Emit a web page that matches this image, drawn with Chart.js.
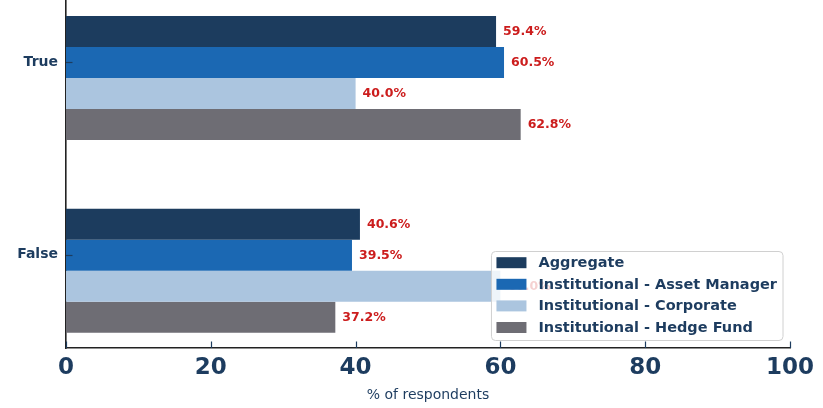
<!DOCTYPE html>
<html><head><meta charset="utf-8">
<script src="https://cdn.jsdelivr.net/npm/chart.js@4.4.0/dist/chart.umd.min.js"></script>
<style>html,body{margin:0;padding:0;background:#fff;overflow:hidden;} #wrap{width:823px;height:408px;position:relative;}</style>
</head><body><div id="wrap"><canvas id="c"></canvas></div>
<script>
const categories = ['True', 'False'];
const seriesNames = ['Aggregate', 'Institutional - Asset Manager', 'Institutional - Corporate', 'Institutional - Hedge Fund'];
const aggregate = [59.4, 40.6];
const assetManager = [60.5, 39.5];
const corporate = [40.0, 60.0];
const hedgeFund = [62.8, 37.2];
const xTicks = [0, 20, 40, 60, 80, 100];
const seriesValues = [aggregate, assetManager, corporate, hedgeFund];
const colors = ['#1c3c5e', '#1b68b3', '#abc5df', '#6e6d74'];
const NAVY = '#1d3c5f';
const FONT = '"DejaVu Sans", sans-serif';
const TICK_SHIFT = 0.083;

const labelPlugin = {
  id: 'valueLabels',
  afterDatasetsDraw(chart) {
    const ctx = chart.ctx;
    ctx.save();
    ctx.font = 'bold 12.5px ' + FONT;
    ctx.fillStyle = '#cc1d1d';
    ctx.textBaseline = 'middle';
    ctx.textAlign = 'left';
    chart.data.datasets.forEach((ds, di) => {
      chart.getDatasetMeta(di).data.forEach((bar, i) => {
        ctx.fillText(ds.data[i].x.toFixed(1) + '%', bar.x + 7, bar.y + 0.5);
      });
    });
    ctx.restore();
  }
};

const tickLegendPlugin = {
  id: 'tickLegend',
  afterDraw(chart) {
    const ctx = chart.ctx;
    const ca = chart.chartArea;
    const xs = chart.scales.x, ys = chart.scales.y;
    ctx.save();
    ctx.strokeStyle = NAVY;
    ctx.lineWidth = 1.2;
    xs.ticks.forEach(t => {
      const px = Math.round(xs.getPixelForValue(t.value)) + 0.5;
      ctx.beginPath(); ctx.moveTo(px, ca.bottom); ctx.lineTo(px, ca.bottom - 6.5); ctx.stroke();
    });
    ys.ticks.forEach(t => {
      const py = Math.round(ys.getPixelForValue(t.value)) + 0.5;
      ctx.beginPath(); ctx.moveTo(ca.left, py); ctx.lineTo(ca.left + 6.5, py); ctx.stroke();
    });
    // legend
    ctx.font = 'bold 14.5px ' + FONT;
    let maxW = 0;
    seriesNames.forEach(n => { maxW = Math.max(maxW, ctx.measureText(n).width); });
    const w = 5 + 30 + 12 + maxW + 6;
    const h = 89;
    const right = ca.right - 7;
    const bottom = ca.bottom - 7.5;
    const left = right - w, top = bottom - h;
    ctx.beginPath();
    ctx.roundRect(left, top, w, h, 4);
    ctx.fillStyle = 'rgba(255,255,255,0.8)';
    ctx.fill();
    ctx.strokeStyle = '#d0d0d0';
    ctx.lineWidth = 1;
    ctx.stroke();
    ctx.textBaseline = 'middle';
    ctx.textAlign = 'left';
    seriesNames.forEach((n, i) => {
      const cy = top + 11.2 + i * 21.6;
      ctx.fillStyle = colors[i];
      ctx.fillRect(left + 5, cy - 5.5, 30, 11);
      ctx.fillStyle = NAVY;
      ctx.fillText(n, left + 47, cy + 0.5);
    });
    ctx.restore();
  }
};

new Chart(document.getElementById('c'), {
  type: 'bar',
  data: {
    datasets: seriesNames.map((name, si) => ({
      label: name,
      data: categories.map((c, i) => ({ x: seriesValues[si][i], y: i })),
      backgroundColor: colors[si],
      borderWidth: 0,
      categoryPercentage: 0.6425,
      barPercentage: 1.0
    }))
  },
  options: {
    indexAxis: 'y',
    responsive: true,
    maintainAspectRatio: false,
    animation: false,
    layout: { padding: { left: 0, right: 33, top: 0, bottom: 0 } },
    plugins: { legend: { display: false }, tooltip: { enabled: false } },
    scales: {
      x: {
        type: 'linear',
        min: 0, max: 100,
        offset: false,
        afterBuildTicks: s => { s.ticks = xTicks.map(v => ({ value: v })); },
        afterFit: s => { s.height = 60; s.paddingLeft = 0; s.paddingRight = 0; },
        grid: { display: false, drawTicks: false, offset: false },
        border: { display: true, color: '#222', width: 1.6 },
        ticks: { color: NAVY, font: { family: FONT, size: 23, weight: 'bold' }, padding: 6, maxRotation: 0 },
        title: { display: true, text: '% of respondents', color: NAVY, font: { family: FONT, size: 14 }, padding: { top: 0, bottom: 4 } }
      },
      y: {
        type: 'linear',
        reverse: true,
        offset: false,
        min: -0.404, max: 1.4,
        afterBuildTicks: s => { s.ticks = categories.map((c, i) => ({ value: i - TICK_SHIFT })); },
        afterFit: s => { s.width = 66; s.paddingTop = 0; s.paddingBottom = 0; },
        grid: { display: false, drawTicks: false, offset: false },
        border: { display: true, color: '#222', width: 1.6 },
        ticks: {
          color: NAVY, font: { family: FONT, size: 14, weight: 'bold' }, padding: 8,
          callback: v => categories[Math.round(v + TICK_SHIFT)]
        }
      }
    }
  },
  plugins: [labelPlugin, tickLegendPlugin]
});
</script>
</body></html>
